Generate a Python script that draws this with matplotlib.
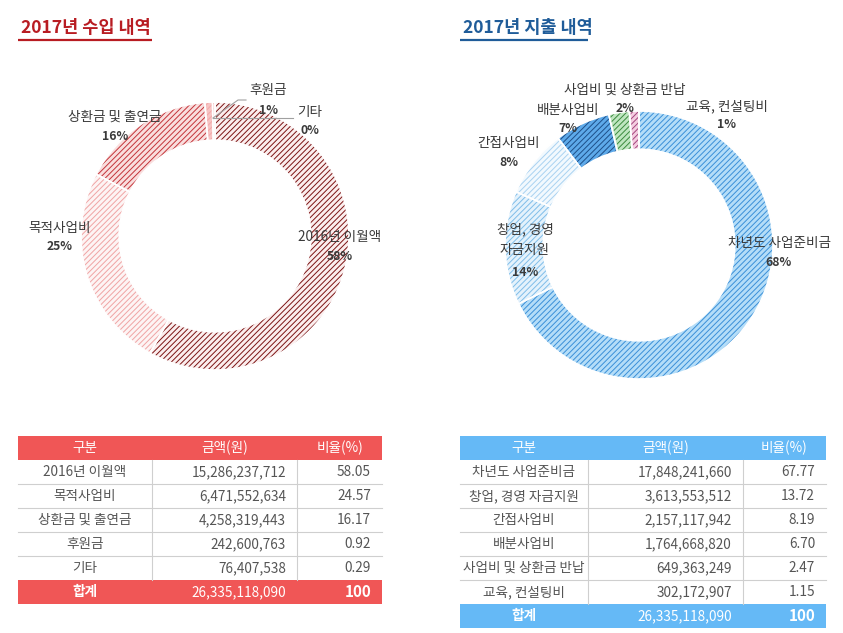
import matplotlib.pyplot as plt
from matplotlib.patches import Rectangle

plt.rcParams['font.family'] = ['Noto Sans CJK KR', 'DejaVu Sans']
plt.rcParams['hatch.linewidth'] = 0.7

W, H = 843, 633

# income (수입)
in_title = '2017년 수입 내역'
in_labels = ['2016년 이월액', '목적사업비', '상환금 및 출연금', '후원금', '기타']
in_amounts = [15286237712, 6471552634, 4258319443, 242600763, 76407538]
in_ratio = [58.05, 24.57, 16.17, 0.92, 0.29]
in_total = 26335118090

# spending (지출)
out_title = '2017년 지출 내역'
out_labels = ['차년도 사업준비금', '창업, 경영 자금지원', '간접사업비', '배분사업비',
              '사업비 및 상환금 반납', '교육, 컨설팅비']
out_chart_labels = ['차년도 사업준비금', '창업, 경영\n자금지원', '간접사업비', '배분사업비',
                    '사업비 및 상환금 반납', '교육, 컨설팅비']
out_amounts = [17848241660, 3613553512, 2157117942, 1764668820, 649363249, 302172907]
out_ratio = [67.77, 13.72, 8.19, 6.70, 2.47, 1.15]
out_total = 26335118090

header = ['구분', '금액(원)', '비율(%)']

# styles
in_face = ['#fbeeee', '#fdf4f4', '#f9dede', '#f7c4c4', '#f1a0a0']
in_hatch = ['#7c1414', '#f0a4a4', '#c4343a', '#f3a9a9', '#e06060']
out_face = ['#b4ddf8', '#e4f2fc', '#f2f9fe', '#5eaaea', '#bfe6c0', '#f4cde0']
out_hatch = ['#3a8fd8', '#7fbde9', '#a9d2f1', '#1d4f88', '#3b8a3e', '#a4457e']

# label positions in pixels (name centre, pct centre)
in_pos = [(340, 237, 257), (60, 228, 247), (115, 117, 136), (268, 90, 110), (310, 112, 131)]
out_pos = [(779, 243, 263), (525, 240, 272), (509, 143, 162), (568, 110, 128),
           (625, 90, 108), (727, 106, 124)]

fig = plt.figure(figsize=(W / 100, H / 100), dpi=100)


def donut(cx, cy, r, values, faces, hatches):
    ax = fig.add_axes([(cx - r) / W, 1 - (cy + r) / H, 2 * r / W, 2 * r / H])
    ring = 0.285
    wedges, _ = ax.pie(values, startangle=90, counterclock=False, colors=faces,
                       wedgeprops=dict(width=ring, linewidth=0))
    for w, hc in zip(wedges, hatches):
        w.set_edgecolor(hc)
        w.set_hatch('//////')
        w.set_linewidth(0)
    ax.pie(values, startangle=90, counterclock=False, colors=['none'] * len(values),
           wedgeprops=dict(width=ring, linewidth=1.2, edgecolor='white'))
    ax.set_xlim(-1, 1)
    ax.set_ylim(-1, 1)
    ax.axis('off')


donut(215, 236, 134, in_ratio, in_face, in_hatch)
donut(639, 245, 134, out_ratio, out_face, out_hatch)

ov = fig.add_axes([0, 0, 1, 1])
ov.set_xlim(0, W)
ov.set_ylim(H, 0)
ov.axis('off')

txt = '#3a3a3a'
for lab, r, (x, yn, yp) in zip(in_labels, in_ratio, in_pos):
    ov.text(x, yn, lab, ha='center', va='center', fontsize=9.8, color=txt)
    ov.text(x, yp, f'{r:.0f}%', ha='center', va='center', fontsize=8.8,
            fontweight='bold', color=txt)
for lab, r, (x, yn, yp) in zip(out_chart_labels, out_ratio, out_pos):
    ov.text(x, yn, lab, ha='center', va='center', fontsize=9.8, color=txt,
            linespacing=1.6)
    ov.text(x, yp, f'{r:.0f}%', ha='center', va='center', fontsize=8.8,
            fontweight='bold', color=txt)

# leader lines for the small slices
ov.plot([213, 293], [118, 118], color='#a0a0a0', lw=0.8)
ov.plot([213, 238, 246], [118, 100, 100], color='#a0a0a0', lw=0.8)

# titles
for title, x0, x1, col in [(in_title, 18, 152, '#b81c22'), (out_title, 460, 588, '#1f5c99')]:
    ov.text(x0 + 3, 28, title, ha='left', va='center', fontsize=12.6,
            fontweight='bold', color=col)
    ov.plot([x0, x1], [40, 40], color=col, lw=1.6, solid_capstyle='butt')


def table(edges, labels, amounts, ratios, total, head_col):
    top = 436
    rh = 24
    n = len(labels)
    x0, x1 = edges[0], edges[-1]
    ov.add_patch(Rectangle((x0, top), x1 - x0, rh, color=head_col, lw=0))
    centres = [(edges[i] + edges[i + 1]) / 2 for i in range(3)]
    for c, h in zip(centres, header):
        ov.text(c, top + rh / 2, h, ha='center', va='center', fontsize=9.8,
                fontweight='medium', color='white')
    for i in range(n):
        y = top + rh * (i + 1)
        ov.text(centres[0], y + rh / 2, labels[i], ha='center', va='center',
                fontsize=9.8, color='#555555')
        ov.text(edges[2] - 11, y + rh / 2, f'{amounts[i]:,}', ha='right', va='center',
                fontsize=9.8, color='#555555')
        ov.text(edges[3] - 11, y + rh / 2, f'{ratios[i]:.2f}', ha='right', va='center',
                fontsize=9.8, color='#555555')
        if i > 0:
            ov.plot([x0, x1], [y, y], color='#cfcfcf', lw=0.8)
    body_top = top + rh
    body_bot = top + rh * (n + 1)
    for e in edges[1:3]:
        ov.plot([e, e], [body_top, body_bot], color='#cfcfcf', lw=0.8)
    ov.add_patch(Rectangle((x0, body_bot), x1 - x0, rh, color=head_col, lw=0))
    ov.text(centres[0], body_bot + rh / 2, '합계', ha='center', va='center',
            fontsize=9.8, fontweight='bold', color='white')
    ov.text(edges[2] - 11, body_bot + rh / 2, f'{total:,}', ha='right', va='center',
            fontsize=9.8, fontweight='medium', color='white')
    ov.text(edges[3] - 11, body_bot + rh / 2, f'{sum(ratios):.0f}', ha='right',
            va='center', fontsize=11, fontweight='bold', color='white')


table([18, 152, 297, 382], in_labels, in_amounts, in_ratio, in_total, '#f05656')
table([460, 588, 743, 826], out_labels, out_amounts, out_ratio, out_total, '#65b9f6')

fig.savefig('out.png', dpi=100)
